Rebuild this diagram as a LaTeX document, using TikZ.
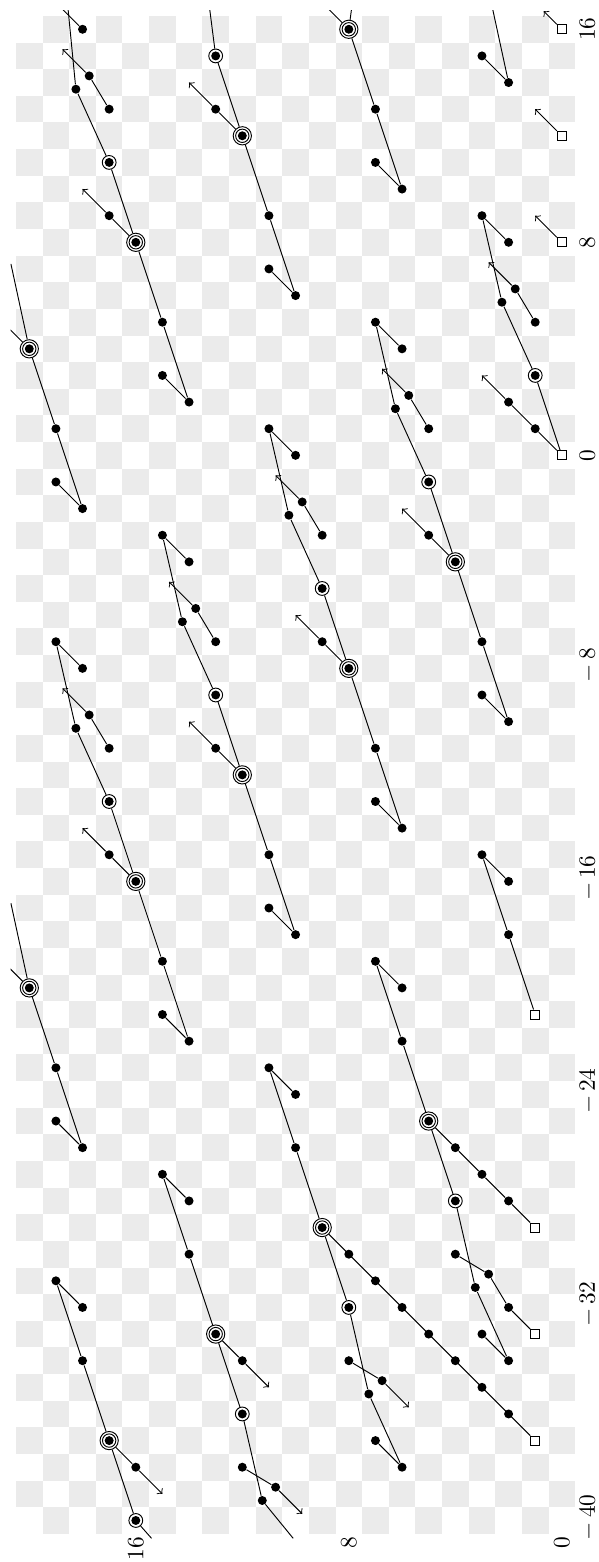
\documentclass[tikz,border=0pt]{standalone}
\usepackage{tikz}
\usetikzlibrary{calc}

\definecolor{cellgray}{gray}{0.92}

\begin{document}
\begin{tikzpicture}[x=0.4cm, y=0.4cm, rotate=90, transform shape,
    blob/.style={circle, fill, inner sep=0pt, minimum size=3.84pt},
    ring/.style={circle, draw, fill=white, inner sep=0pt, minimum size=5.9pt,
        path picture={\fill[black] (path picture bounding box.center) circle (1.92pt);}},
    dring/.style={circle, draw, fill=white, inner sep=0pt, minimum size=7.8pt,
        path picture={\draw[black] (path picture bounding box.center) circle (2.85pt);
                      \fill[black] (path picture bounding box.center) circle (1.92pt);}},
    sq/.style={rectangle, draw, fill=white, inner sep=0pt, minimum size=3.9pt},
    axlabel/.style={inner sep=0pt},
]
\useasboundingbox (-41.56,-1.38) rectangle (17.10,21.10);

% checkerboard
\foreach \i in {-40,...,16}
  \foreach \j in {0,...,20}
    {\ifodd\numexpr\i+\j\relax \fill[cellgray] (\i-0.5,\j-0.5) rectangle ++(1,1);\fi}

\begin{scope}
\clip (-40.68,-0.7) rectangle (16.72,20.7);

% double circles
\foreach \n/\x/\y in {a/16/8,b/12/12,c/8/16,d/4/20,e/-4/4,f/-8/8,g/-12/12,h/-16/16,i/-20/20,
                      j/-25/5,k/-29/9,l/-33/13,m/-37/17}
  \node[dring] (D\n) at (\x,\y) {};

% squares
\foreach \n/\x/\y in {Do/0/0,Qp/8/0,Qq/12/0,Qr/16/0,Ds/-21/1,Qt/-29/1,Qu/-33/1,Qv/-37/1}
  \node[sq] (\n) at (\x,\y) {};

% left lines, first family
\foreach \n/\x/\y in {a/16/8,b/12/12,c/8/16,d/4/20,e/-4/4,f/-8/8,g/-12/12,h/-16/16,i/-20/20}{
  \node[blob] (L\n) at (\x-6,\y-2) {};
  \node[blob] (M\n) at (\x-3,\y-1) {};
  \node[blob] (W\n) at (\x-5,\y-1) {};
  \draw (W\n) -- (L\n) -- (M\n) -- (D\n);
}
\node[blob] (Lz) at (14,2) {};
\node[blob] (Wz) at (15,3) {};
\coordinate (Ez) at (16.72,2.59);
\draw (Wz) -- (Lz) -- (Ez);

% short arrows, first family
\foreach \n/\x/\y in {a/16/8,b/12/12,c/8/16,d/4/20,e/-4/4,f/-8/8,g/-12/12,h/-16/16,i/-20/20}{
  \node[blob] (U\n) at (\x+1,\y+1) {};
  \coordinate (Ut\n) at (\x+2,\y+2);
  \draw[->] (D\n) -- (U\n) -- (Ut\n);
}
\node[blob] (Uo1) at (1,1) {};
\node[blob] (Uo2) at (2,2) {};
\coordinate (Uto) at (3,3);
\draw[->] (Do) -- (Uo1) -- (Uo2) -- (Uto);

% bent chains, first family
\foreach \n/\x/\y in {o/0/0,e/-4/4,f/-8/8,g/-12/12,h/-16/16}{
  \node[ring] (S\n) at (\x+3,\y+1) {};
  \node[blob] (B\n) at (\x+5.75,\y+2.25) {};
  \node[blob] (T\n) at (\x+9,\y+3) {};
  \node[blob] (V\n) at (\x+8,\y+2) {};
  \draw (D\n) -- (S\n) -- (B\n) -- (T\n) -- (V\n);
}
\node[ring] (Sb) at (15,13) {};
\coordinate (Eb) at (16.72,13.22);
\draw (Db) -- (Sb) -- (Eb);
\node[ring] (Sc) at (11,17) {};
\node[blob] (Bc) at (13.75,18.25) {};
\node[blob] (Vc) at (16,18) {};
\coordinate (Ec) at (16.72,18.54);
\coordinate (Tc) at (17,19);
\draw (Dc) -- (Sc) -- (Bc) -- (Ec);
\draw (Vc) -- (Tc);
\coordinate (Ea) at (16.75,7.9);
\draw (Da) -- (Ea);
\coordinate (Ed) at (7.19,20.69);
\draw (Dd) -- (Ed);
\coordinate (Ei) at (-16.82,20.69);
\draw (Di) -- (Ei);

% hooks, first family
\foreach \n/\x/\y in {o/0/0,c/8/16,e/-4/4,f/-8/8,g/-12/12,h/-16/16}{
  \node[blob] (P\n) at (\x+5,\y+1) {};
  \node[blob] (C\n) at (\x+6.25,\y+1.75) {};
  \coordinate (Ct\n) at (\x+7.25,\y+2.75);
  \draw[->] (P\n) -- (C\n) -- (Ct\n);
}

% left lines, second family
\foreach \n/\x/\y in {s/-21/1,j/-25/5,k/-29/9,l/-33/13,m/-37/17}{
  \node[blob] (M\n) at (\x+3,\y+1) {};
  \node[blob] (L\n) at (\x+6,\y+2) {};
  \node[blob] (W\n) at (\x+5,\y+1) {};
  \draw (D\n) -- (M\n) -- (L\n) -- (W\n);
}

% short arrows, second family
\foreach \n/\x/\y in {l/-33/13,m/-37/17}{
  \node[blob] (U\n) at (\x-1,\y-1) {};
  \coordinate (Ut\n) at (\x-2,\y-2);
  \draw[->] (D\n) -- (U\n) -- (Ut\n);
}

% diagonal runs down to the squares
\foreach \s in {1,2,3}
  \node[blob] (Nj\s) at (-25-\s,5-\s) {};
\draw (Dj) -- (Nj1) -- (Nj2) -- (Nj3) -- (Qt);
\foreach \s in {1,...,7}
  \node[blob] (Nk\s) at (-29-\s,9-\s) {};
\draw (Dk) \foreach \s in {1,...,7}{ -- (Nk\s)} -- (Qv);

% bent chains, second family
\foreach \n/\x/\y in {j/-25/5,k/-29/9}{
  \node[ring] (S\n) at (\x-3,\y-1) {};
  \node[blob] (B\n) at (\x-6.25,\y-1.75) {};
  \node[blob] (T\n) at (\x-9,\y-3) {};
  \node[blob] (V\n) at (\x-8,\y-2) {};
  \draw (D\n) -- (S\n) -- (B\n) -- (T\n) -- (V\n);
}
\node[ring] (Sl) at (-36,12) {};
\node[blob] (Bl) at (-39.25,11.25) {};
\coordinate (El) at (-40.67,10.09);
\draw (Dl) -- (Sl) -- (Bl) -- (El);
\node[ring] (Sm) at (-40,16) {};
\coordinate (Em) at (-40.67,15.41);
\draw (Dm) -- (Sm) -- (Em);

% hooks, second family
\foreach \n/\x/\y in {k/-29/9,l/-33/13}{
  \node[blob] (P\n) at (\x-5,\y-1) {};
  \node[blob] (C\n) at (\x-5.75,\y-2.25) {};
  \coordinate (Ct\n) at (\x-6.75,\y-3.25);
  \draw[->] (P\n) -- (C\n) -- (Ct\n);
}
\node[blob] (Pj) at (-30,4) {};
\node[blob] (Cj) at (-30.75,2.75) {};
\node[blob] (Rj) at (-32,2) {};
\draw (Pj) -- (Cj) -- (Rj) -- (Qu);

% short arrows from the squares
\coordinate (Rp) at (9,1);
\coordinate (Rq) at (13,1);
\coordinate (Rr) at (16.68,0.68);
\draw[->] (Qp) -- (Rp);
\draw[->] (Qq) -- (Rq);
\draw[->] (Qr) -- (Rr);
\end{scope}

% axis labels
\foreach \v/\n in {40/a,32/b,24/c,16/d,8/e}
  \node[axlabel, anchor=north] (X\n) at (-\v+0.12,-0.66) {$-\,\v$};
\foreach \v/\n in {0/f,8/g,16/h}
  \node[axlabel, anchor=north] (X\n) at (\v,-0.66) {$\v$};
\foreach \v/\n in {0/a,8/b,16/c}
  \node[axlabel, anchor=east] (Y\n) at (-40.6,\v) {$\v$};
\end{tikzpicture}
\end{document}
